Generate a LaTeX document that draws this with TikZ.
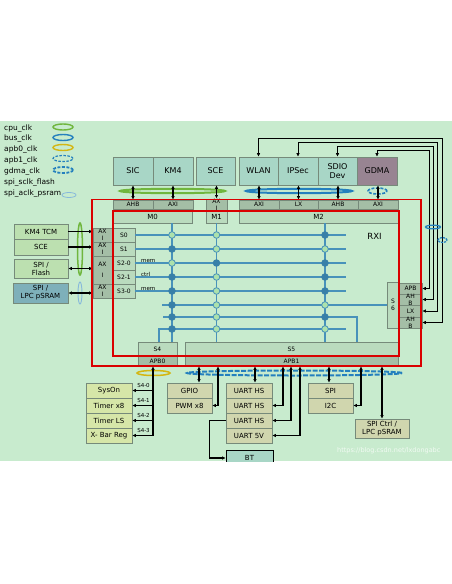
\documentclass[tikz,border=0pt]{standalone}
\usepackage{fontspec}
\setmainfont{DejaVu Sans}
\usepackage{tikz}
\usetikzlibrary{arrows.meta}
\definecolor{RxiBgColor}{RGB}{200,235,206}
\definecolor{RxiMasterColor}{RGB}{168,214,198}
\definecolor{RxiGdmaColor}{RGB}{152,132,146}
\definecolor{RxiPortColor}{RGB}{164,190,166}
\definecolor{RxiSlaveColor}{RGB}{186,219,190}
\definecolor{RxiEdgeColor}{RGB}{118,138,122}
\definecolor{RxiLeftColor}{RGB}{188,224,176}
\definecolor{RxiPsramColor}{RGB}{126,176,186}
\definecolor{RxiApbZeroColor}{RGB}{214,230,168}
\definecolor{RxiPeriColor}{RGB}{208,214,174}
\definecolor{RxiBusColor}{RGB}{72,146,186}
\definecolor{RxiDotColor}{RGB}{56,128,168}
\definecolor{RxiLightDotColor}{RGB}{172,226,172}
\definecolor{RxiRedColor}{RGB}{218,0,0}
\definecolor{RxiCpuClkColor}{RGB}{112,182,62}
\definecolor{RxiBusClkColor}{RGB}{36,128,190}
\definecolor{RxiApbClkColor}{RGB}{212,182,18}
\newcommand{\rxibig}{\fontsize{8}{9}\selectfont}
\newcommand{\rxirxi}{\fontsize{8.5}{10}\selectfont}
\newcommand{\rxip}{\fontsize{7}{8}\selectfont}
\newcommand{\rxiport}{\fontsize{6}{7}\selectfont}
\newcommand{\rxitiny}{\fontsize{5.5}{6}\selectfont}
\newcommand{\rxilg}{\fontsize{7.5}{9}\selectfont}
\newcommand{\rxiwm}{\fontsize{6.5}{7}\selectfont}

\begin{document}
\begin{tikzpicture}[x=1pt,y=-1pt,>={Latex[length=3.5pt,width=3.5pt]},blk/.style n args={3}{draw=RxiEdgeColor,fill=#1,minimum width=#2pt,minimum height=#3pt,inner sep=0pt,align=center,line width=0.6pt},ar/.style={line width=1.3pt,black},bus/.style={RxiBusColor,line width=1.8pt},dotlt/.style={fill=RxiLightDotColor,draw=RxiBusColor,line width=0.8pt},dotdk/.style={fill=RxiDotColor,draw=RxiDotColor,line width=0.8pt},redframe/.style={RxiRedColor,line width=1.8pt}]
\useasboundingbox (0,0) rectangle (452,584);
\begin{scope}
\clip (0,121) rectangle (452,461);
\fill[RxiBgColor] (0,121) rectangle (452,461);
% legend
\foreach \t/\y in {cpu\_clk/129,bus\_clk/139,apb0\_clk/150,apb1\_clk/161,gdma\_clk/172,spi\_sclk\_flash/183,spi\_aclk\_psram/194} {
   \node[font=\rxilg,anchor=west,inner sep=0pt] (lg\y) at (4,\y) {\t};
}
\draw[RxiCpuClkColor,line width=1.4pt] (63,127) ellipse (10pt and 3pt);
\draw[RxiBusClkColor,line width=1.4pt] (63,137.5) ellipse (10pt and 3pt);
\draw[RxiApbClkColor,line width=1.4pt] (63,147.5) ellipse (10pt and 3pt);
\draw[RxiBusClkColor,line width=1.2pt,dash pattern=on 2.5pt off 1.5pt] (63,158.5) ellipse (10pt and 3pt);
\draw[RxiBusClkColor,line width=1.8pt,dash pattern=on 3pt off 1.5pt] (63,170) ellipse (10pt and 3pt);
\draw[RxiBusClkColor!55,line width=0.8pt] (69,195) ellipse (7pt and 2.5pt);
% masters
\node[blk={RxiMasterColor}{40}{28},font=\rxibig] (sic) at (133,171) {SIC};
\node[blk={RxiMasterColor}{40}{28},font=\rxibig] (km4) at (173,171) {KM4};
\node[blk={RxiMasterColor}{39}{28},font=\rxibig] (sce) at (215.5,171) {SCE};
\node[blk={RxiMasterColor}{39}{28},font=\rxibig] (wlan) at (258.5,171) {WLAN};
\node[blk={RxiMasterColor}{40}{28},font=\rxibig] (ipsec) at (298,171) {IPSec};
\node[blk={RxiMasterColor}{39}{28},font=\rxibig] (sdio) at (337.5,171) {SDIO\\Dev};
\node[blk={RxiGdmaColor}{40}{28},font=\rxibig] (gdma) at (377,171) {GDMA};
\draw[RxiCpuClkColor,line width=2pt] (172.5,191) ellipse (52.5pt and 2.2pt);
\draw[RxiBusClkColor,line width=2pt] (299,191) ellipse (53pt and 2.2pt);
\draw[RxiBusClkColor,line width=1.6pt,dash pattern=on 3pt off 1.5pt] (377.5,191) ellipse (9.5pt and 3pt);
% master ports
\foreach \n/\x/\w/\t in {ahbz/133/40/AHB,axiz/173/40/AXI,axo/216.5/21/AX\\I,axit/259/40/AXI,lxt/298.5/39/LX,ahbt/338/40/AHB,axid/378/40/AXI} {
   \node[blk={RxiPortColor}{\w}{9},font=\rxiport] (\n) at (\x,204.5) {\t};
}
\node[blk={RxiSlaveColor}{79}{12},font=\rxip] (m0) at (152.5,217) {M0};
\node[blk={RxiSlaveColor}{21}{12},font=\rxip] (m1) at (216.5,217) {M1};
\node[blk={RxiSlaveColor}{159}{12},font=\rxip] (m2) at (318.5,217) {M2};
\foreach \a/\b in {sic/ahbz,km4/axiz,sce/axo,wlan/axit,ipsec/lxt,sdio/ahbt,gdma/axid} {
   \draw[ar,<->] (\b.north |- \a.south) -- (\b.north);
}
% slave side
\node[blk={RxiPortColor}{19}{14},font=\rxiport] (axa) at (102.5,235) {AX\\I};
\node[blk={RxiPortColor}{19}{14},font=\rxiport] (axb) at (102.5,249) {AX\\I};
\node[blk={RxiPortColor}{19}{28},font=\rxiport] (axc) at (102.5,270) {AX\\[4pt]I};
\node[blk={RxiPortColor}{19}{14},font=\rxiport] (axd) at (102.5,291) {AX\\I};
\foreach \n/\y/\t in {s0/235/S0,s1/249/S1,s20/263/S2-0,s21/277/S2-1,s30/291/S3-0} {
   \node[blk={RxiSlaveColor}{22}{14},font=\rxiport] (\n) at (124,\y) {\t};
}
\node[blk={RxiLeftColor}{54}{15},font=\rxip] (km4tcm) at (41,231.5) {KM4 TCM};
\node[blk={RxiLeftColor}{54}{16},font=\rxip] (lsce) at (41,247) {SCE};
\node[blk={RxiLeftColor}{54}{19},font=\rxip] (flash) at (41,268.5) {SPI /\\Flash};
\node[blk={RxiPsramColor}{55}{20},font=\rxip] (psram) at (40.5,293) {SPI /\\LPC pSRAM};
\draw[RxiCpuClkColor,line width=1.5pt] (80,249) ellipse (2.5pt and 26pt);
\draw[RxiBusClkColor!55,line width=0.9pt] (80,293) ellipse (2pt and 11pt);
\draw[ar,->] (km4tcm.east) -- (km4tcm.east -| axa.west);
\draw[ar,->] (lsce.east) -- (lsce.east -| axb.west);
\draw[ar,<->] (flash.east) -- (flash.east -| axc.west);
\draw[ar,<->] (psram.east) -- (psram.east -| axd.west);
% S4 S5 S6
\node[blk={RxiSlaveColor}{39}{14},font=\rxiport] (s4) at (157.5,349) {S4};
\node[blk={RxiPortColor}{39}{10},font=\rxiport] (apbz) at (157.5,361) {APB0};
\node[blk={RxiSlaveColor}{213}{14},font=\rxiport] (s5) at (291.5,349) {S5};
\node[blk={RxiPortColor}{213}{10},font=\rxiport] (apbo) at (291.5,361) {APB1};
\node[blk={RxiSlaveColor}{12}{46},font=\rxiport] (s6) at (393,305) {S\\6};
\node[blk={RxiPortColor}{23}{11},font=\rxiport] (apbs) at (410.5,288.5) {APB};
\node[blk={RxiPortColor}{23}{11},font=\rxiport] (ahbs) at (410.5,299.5) {AH\\B};
\node[blk={RxiPortColor}{23}{12},font=\rxiport] (lxs) at (410.5,311) {LX};
\node[blk={RxiPortColor}{23}{11},font=\rxiport] (ahbss) at (410.5,322.5) {AH\\B};
% crossbar
\coordinate (c1) at (172,0);
\coordinate (c3) at (325,0);
\coordinate (j4) at (159,0);
\coordinate (j5) at (357,0);
\coordinate (k4) at (346,329);
\coordinate (k5) at (163,317);
\draw[bus] (m0.south -| c1) -- (s4.north -| c1);
\draw[bus] (m1.south) -- (s5.north -| m1.south);
\draw[bus] (m2.south -| c3) -- (s5.north -| c3);
\foreach \n in {s0,s1,s20,s21,s30} {
   \draw[bus] (\n.east) -- ++(211,0);
}
\draw[bus] (s6.west) -- ++(-225,0);
\draw[bus] (k5) -| (s5.north -| j5);
\draw[bus] (s4.north -| j4) |- (k4);
\foreach \y/\a/\b/\c in {235/dotlt/dotlt/dotdk,249/dotdk/dotlt/dotlt,263/dotlt/dotdk/dotdk,277/dotdk/dotlt/dotdk,291/dotdk/dotlt/dotdk,305/dotdk/dotlt/dotlt,317/dotdk/dotlt/dotdk,329/dotdk/dotlt/dotlt} {
   \filldraw[\a] (172,\y) circle (3.3pt);
   \filldraw[\b] (216.5,\y) circle (3.3pt);
   \filldraw[\c] (325,\y) circle (3.3pt);
}
\node[font=\rxitiny,anchor=south west,inner sep=0pt] (mema) at (141,262.5) {mem};
\node[font=\rxitiny,anchor=south west,inner sep=0pt] (ctrl) at (141,276.5) {ctrl};
\node[font=\rxitiny,anchor=south west,inner sep=0pt] (memb) at (141,290.5) {mem};
\node[font=\rxirxi] (rxi) at (374.5,236) {RXI};
% frames
\draw[redframe] (92,199.5) rectangle (421,366);
\draw[redframe] (113,211) rectangle (399,356);
% right side links
\coordinate (r1) at (429,150);
\coordinate (r2) at (433,146.5);
\coordinate (r3) at (437.5,142.5);
\coordinate (r4) at (442,138);
\foreach \a/\r/\b in {gdma/r1/apbs,sdio/r2/ahbs,ipsec/r3/lxs,wlan/r4/ahbss} {
   \draw[line width=0.6pt,<->] (\a.north) |- (\r) |- (\b.east);
}
\draw[RxiBusClkColor,line width=1.3pt] (433,227) ellipse (7.5pt and 1.8pt);
\draw[RxiBusClkColor,line width=1.3pt,dash pattern=on 2pt off 1pt] (442.5,240) ellipse (4.5pt and 2.5pt);
% peripherals
\draw[RxiApbClkColor,line width=1.5pt] (153.5,373) ellipse (16.5pt and 2.5pt);
\draw[RxiBusClkColor,line width=2pt,dash pattern=on 5pt off 1.5pt] (294.5,373) ellipse (107.5pt and 2.5pt);
\foreach \n/\y/\t in {sys/390.5/SysOn,timo/405.5/Timer x8,timl/420.5/Timer LS,xbar/435.5/X- Bar Reg} {
   \node[blk={RxiApbZeroColor}{46}{15},font=\rxip] (\n) at (109,\y) {\t};
}
\foreach \n/\y/\t in {lba/385/S4-0,lbb/400/S4-1,lbc/415/S4-2,lbd/430/S4-3} {
   \node[font=\rxitiny,inner sep=0pt] (\n) at (143.5,\y) {\t};
}
\coordinate (b0) at (153,0);
\draw[ar,<->] (apbz.south -| b0) |- (xbar.east);
\foreach \n in {sys,timo,timl} {
   \draw[ar,->] (\n.east -| b0) -- (\n.east);
}
\node[blk={RxiPeriColor}{45}{15},font=\rxip] (gpio) at (189.5,390.5) {GPIO};
\node[blk={RxiPeriColor}{45}{15},font=\rxip] (pwm) at (189.5,405.5) {PWM x8};
\foreach \n/\y/\t in {uarta/390.5/UART HS,uartb/405.5/UART HS,uartc/420.5/UART HS,uartd/435.5/UART 5V} {
   \node[blk={RxiPeriColor}{46}{15},font=\rxip] (\n) at (249,\y) {\t};
}
\node[blk={RxiMasterColor}{47}{16},font=\rxip,draw=black] (bt) at (249.5,458) {BT};
\node[blk={RxiPeriColor}{45}{15},font=\rxip] (spi) at (330.5,390.5) {SPI};
\node[blk={RxiPeriColor}{45}{15},font=\rxip] (itc) at (330.5,405.5) {I2C};
\node[blk={RxiPeriColor}{54}{19},font=\rxip] (spictl) at (382,428.5) {SPI Ctrl /\\LPC pSRAM};
\coordinate (g1) at (199,0);
\coordinate (g2) at (218,0);
\coordinate (u1) at (255,0);
\coordinate (u2) at (283,0);
\coordinate (u3) at (291,0);
\coordinate (u4) at (300,0);
\coordinate (p1) at (329,0);
\coordinate (p2) at (361,0);
\draw[ar,<->] (apbo.south -| g1) -- (gpio.north -| g1);
\draw[ar,<->] (apbo.south -| g2) |- (pwm.east);
\draw[ar,<->] (apbo.south -| u1) -- (uarta.north -| u1);
\draw[ar,<->] (apbo.south -| u2) |- (uartb.east);
\draw[ar,<->] (apbo.south -| u3) |- (uartc.east);
\draw[ar,<->] (apbo.south -| u4) |- (uartd.east);
\draw[ar,<->] (apbo.south -| p1) -- (spi.north -| p1);
\draw[ar,<->] (apbo.south -| p2) |- (itc.east);
\draw[ar,<->] (apbo.south -| spictl.north) -- (spictl.north);
\draw[ar,->] (uartc.west) -- ++(-16,0) |- (bt.west);
\node[text=white,opacity=0.75,font=\rxiwm,anchor=west,inner sep=0pt] (wm) at (337,451) {https://blog.csdn.net/lxdongabc};
\end{scope}
\end{tikzpicture}
\end{document}
